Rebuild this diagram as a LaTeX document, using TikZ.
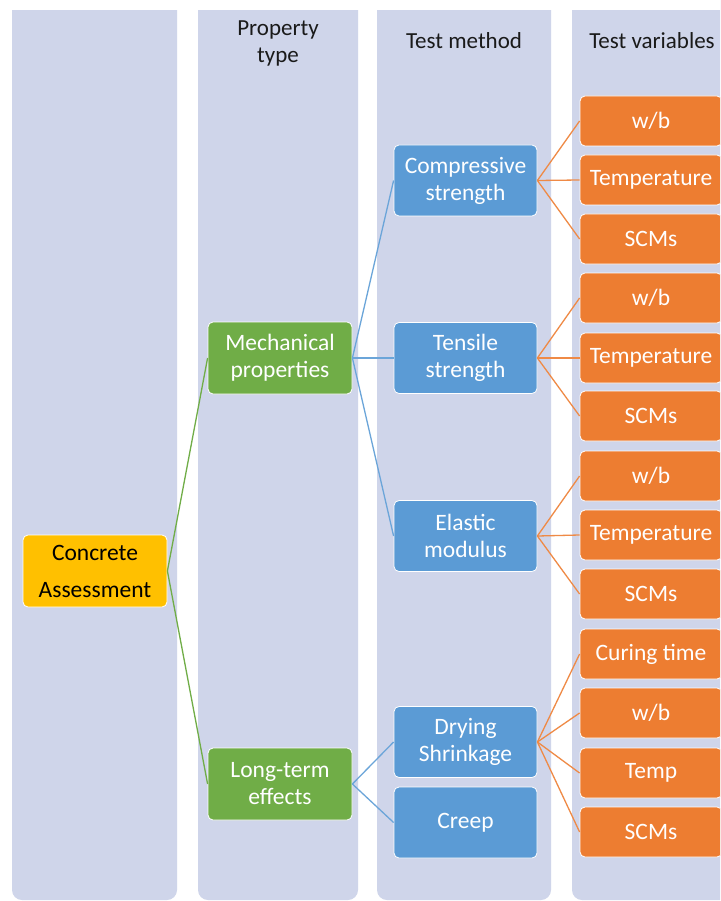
\documentclass[tikz,border=0pt]{standalone}
\usepackage{fontspec}
\setmainfont{Carlito}
\definecolor{lane}{HTML}{CFD5EA}
\definecolor{ygold}{HTML}{FFC000}
\definecolor{mgreen}{HTML}{70AD47}
\definecolor{mblue}{HTML}{5B9BD5}
\definecolor{morange}{HTML}{ED7D31}
\definecolor{htext}{HTML}{1A1A1A}
\tikzset{
  lanebox/.style={fill=lane, draw=none},
  basebox/.style={draw=white, line width=0.8pt, rounded corners=5pt, align=center, inner sep=0pt,
    font=\fontsize{23.5}{27}\selectfont, text=white},
  rootbox/.style={basebox, fill=ygold, text=black, minimum width=144pt, minimum height=72pt,
    font=\fontsize{23.5}{37}\selectfont},
  propbox/.style={basebox, fill=mgreen, minimum width=144pt, minimum height=72pt},
  methbox/.style={basebox, fill=mblue, minimum width=143pt, minimum height=71pt},
  varbox/.style={basebox, fill=morange, minimum width=142pt, minimum height=50pt},
  header/.style={align=center, text=htext, font=\fontsize{23}{27}\selectfont, inner sep=0pt},
  glink/.style={draw=mgreen, line width=1.3pt},
  blink/.style={draw=mblue!90!white, line width=1.3pt},
  olink/.style={draw=morange!90!white, line width=1.3pt},
}
\begin{document}
\begin{tikzpicture}[x=1pt, y=-1pt]
\useasboundingbox (0,0) rectangle (720,901);
\fill[white] (0,0) rectangle (720,901);
\clip (0,0) rectangle (720,901);
% lanes
\fill[lanebox, rounded corners=10pt] (12,-20) rectangle (177,900);
\fill[lanebox, rounded corners=10pt] (198,-20) rectangle (358,900);
\fill[lanebox, rounded corners=10pt] (377,-20) rectangle (551,900);
\fill[lanebox, rounded corners=10pt] (572,-20) rectangle (760,900);
\fill[white] (0,0) rectangle (720,10);
% headers
\node[header] (h2) at (278,43.5) {Property\\type};
\node[header] (h3) at (464,41) {Test method};
\node[header] (h4) at (652,41) {Test variables};
% nodes
\node[rootbox] (ca) at (95,571) {Concrete\\Assessment};
\node[propbox] (mech) at (280,358) {Mechanical\\properties};
\node[propbox] (lt) at (280,784) {Long-term\\effects};
\node[methbox] (comp) at (465.5,180.5) {Compressive\\strength};
\node[methbox] (tens) at (465.5,358) {Tensile\\strength};
\node[methbox] (elas) at (465.5,536) {Elastic\\modulus};
\node[methbox] (dry) at (465.5,742) {Drying\\Shrinkage};
\node[methbox] (creep) at (465.5,822.5) {Creep};
\node[varbox] (v1) at (651,121) {w/b};
\node[varbox] (v2) at (651,180) {Temperature};
\node[varbox] (v3) at (651,239) {SCMs};
\node[varbox] (v4) at (651,298) {w/b};
\node[varbox] (v5) at (651,358) {Temperature};
\node[varbox] (v6) at (651,416) {SCMs};
\node[varbox] (v7) at (651,476) {w/b};
\node[varbox] (v8) at (651,535) {Temperature};
\node[varbox] (v9) at (651,594) {SCMs};
\node[varbox] (v10) at (651,654) {Curing time};
\node[varbox] (v11) at (651,713) {w/b};
\node[varbox] (v12) at (651,773) {Temp};
\node[varbox] (v13) at (651,832) {SCMs};
% connectors
\draw[glink] (ca.east) -- (mech.west);
\draw[glink] (ca.east) -- (lt.west);
\draw[blink] (mech.east) -- (comp.west);
\draw[blink] (mech.east) -- (tens.west);
\draw[blink] (mech.east) -- (elas.west);
\draw[blink] (lt.east) -- (dry.west);
\draw[blink] (lt.east) -- (creep.west);
\foreach \s/\t in {comp/v1,comp/v2,comp/v3,tens/v4,tens/v5,tens/v6,elas/v7,elas/v8,elas/v9,dry/v10,dry/v11,dry/v12,dry/v13}
  \draw[olink] (\s.east) -- (\t.west);
\end{tikzpicture}
\end{document}
